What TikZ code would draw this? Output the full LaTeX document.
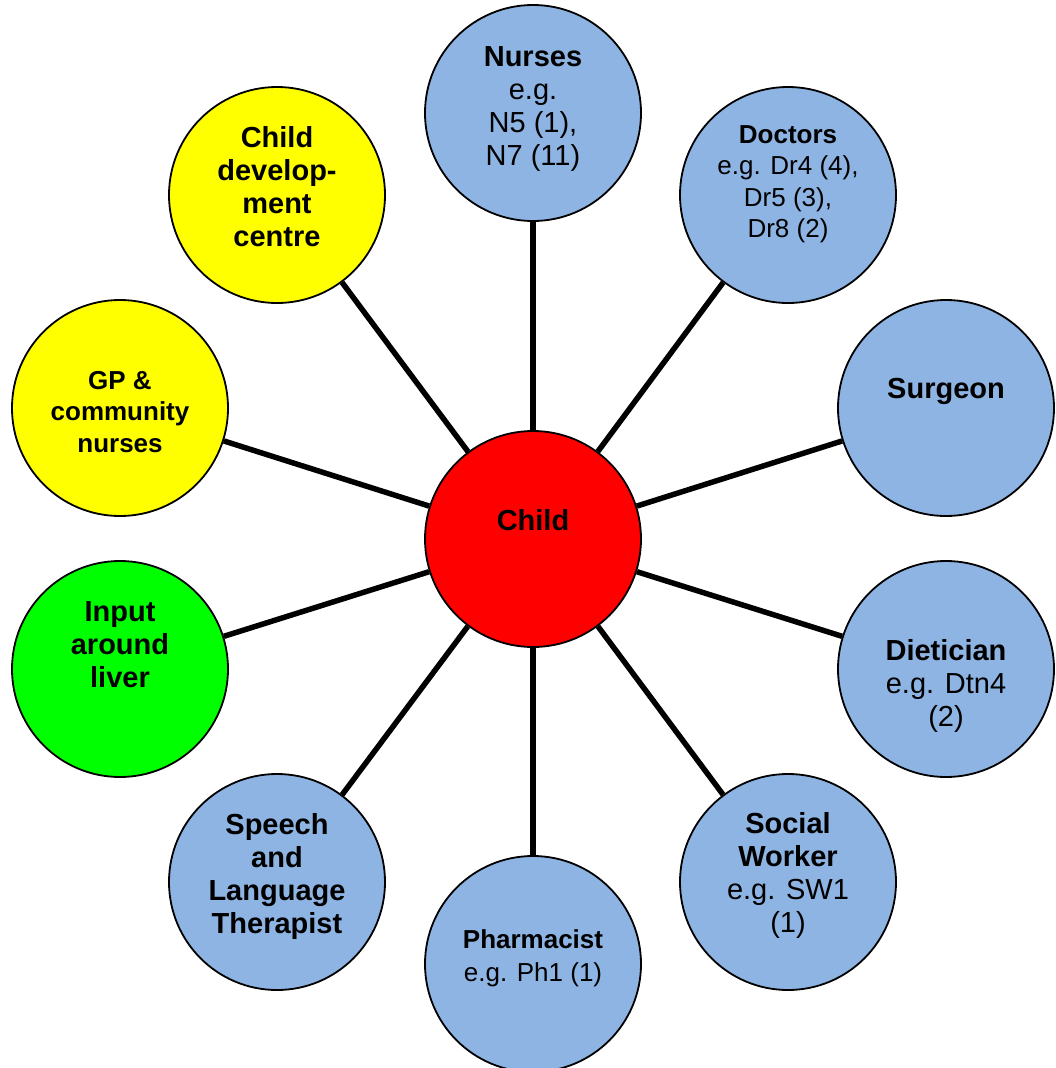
\documentclass[tikz,border=0pt]{standalone}
\usepackage{fontspec}
\setmainfont{Liberation Sans}
\definecolor{bluefill}{HTML}{8EB4E3}
\definecolor{yellowfill}{HTML}{FFFF00}
\definecolor{greenfill}{HTML}{00FF00}
\definecolor{redfill}{HTML}{FF0000}
\begin{document}
\begin{tikzpicture}[x=1pt,y=-1pt,
  circ/.style={circle,draw=black,line width=1.8pt,minimum size=216pt,inner sep=0pt},
  bluec/.style={circ,fill=bluefill},
  yellowc/.style={circ,fill=yellowfill},
  greenc/.style={circ,fill=greenfill},
  redc/.style={circ,fill=redfill},
  link/.style={draw=black,line width=5.5pt},
  lbl/.style={anchor=north,align=center,inner sep=0pt,font=\fontsize{29}{33}\selectfont},
  lbls/.style={anchor=north,align=center,inner sep=0pt,font=\fontsize{26}{31.5}\selectfont}]
\useasboundingbox (0,0) rectangle (1056,1068);

% circles
\node[redc]    (child)   at (533,539) {};
\node[bluec]   (nurses)  at (533,113) {};
\node[bluec]   (doctors) at (788,195) {};
\node[bluec]   (surgeon) at (946,408) {};
\node[bluec]   (diet)    at (946,669) {};
\node[bluec]   (social)  at (788,882) {};
\node[bluec]   (pharm)   at (533,964) {};
\node[bluec]   (speech)  at (277,882) {};
\node[greenc]  (liver)   at (120,669) {};
\node[yellowc] (gp)      at (120,408) {};
\node[yellowc] (cdc)     at (277,195) {};

% connectors
\foreach \n in {nurses,doctors,surgeon,diet,social,pharm,speech,liver,gp,cdc}
  \draw[link] (child) -- (\n);

% labels
\node[lbl]  (childT)   at (533,509) {\textbf{Child}};
\node[lbl]  (nursesT)  at (533,46)  {\textbf{Nurses}\\e.g.\\N5 (1),\\N7 (11)};
\node[lbls] (doctorsT) at (788,125) {\textbf{Doctors}\\e.g. Dr4 (4),\\Dr5 (3),\\Dr8 (2)};
\node[lbl]  (surgeonT) at (946,378) {\textbf{Surgeon}};
\node[lbl]  (dietT)    at (946,639) {\textbf{Dietician}\\e.g. Dtn4\\(2)};
\node[lbl]  (socialT)  at (788,812) {\textbf{Social}\\\textbf{Worker}\\e.g. SW1\\(1)};
\node[lbls,font=\fontsize{26}{33}\selectfont] (pharmT) at (533,929) {\textbf{Pharmacist}\\e.g. Ph1 (1)};
\node[lbl]  (speechT)  at (277,813) {\textbf{Speech}\\\textbf{and}\\\textbf{Language}\\\textbf{Therapist}};
\node[lbl]  (liverT)   at (120,601) {\textbf{Input}\\\textbf{around}\\\textbf{liver}};
\node[lbls] (gpT)      at (120,371) {\textbf{GP \&}\\\textbf{community}\\\textbf{nurses}};
\node[lbl]  (cdcT)     at (277,126) {\textbf{Child}\\\textbf{develop-}\\\textbf{ment}\\\textbf{centre}};
\end{tikzpicture}
\end{document}
